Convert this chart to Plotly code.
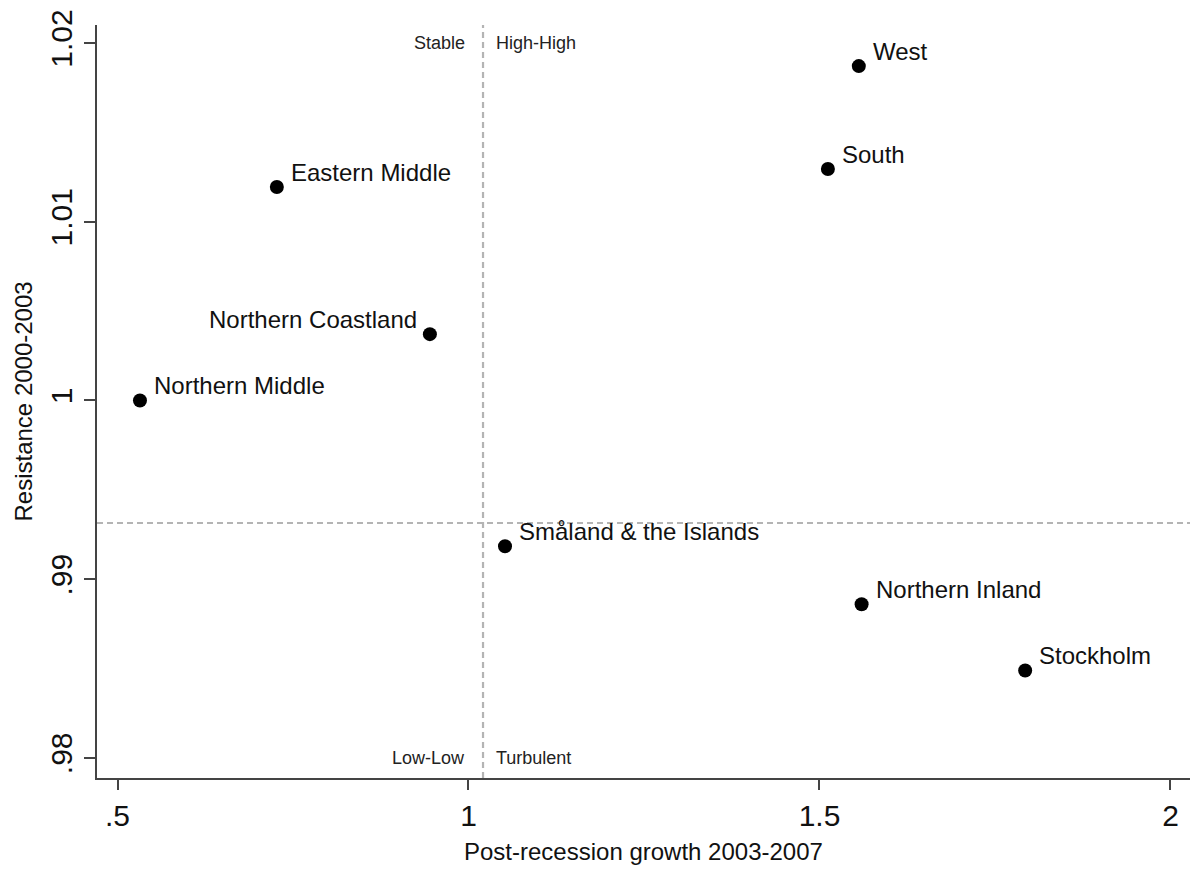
import plotly.graph_objects as go

regions = ["West", "South", "Eastern Middle", "Northern Coastland", "Northern Middle",
           "Småland & the Islands", "Northern Inland", "Stockholm"]
growth = [1.556, 1.512, 0.727, 0.945, 0.532, 1.052, 1.560, 1.793]
resistance = [1.01871, 1.01295, 1.01194, 1.00371, 1.0000, 0.99184, 0.98859, 0.98489]
label_side = ["right", "right", "right", "left", "right", "right", "right", "right"]

x_ticks = [0.5, 1, 1.5, 2]
x_ticklabels = [".5", "1", "1.5", "2"]
y_ticks = [0.98, 0.99, 1.0, 1.01, 1.02]
y_ticklabels = [".98", ".99", "1", "1.01", "1.02"]

vline_x = 1.0207
hline_y = 0.99314

FONT = "Liberation Sans, Arial, sans-serif"

fig = go.Figure()
fig.add_trace(go.Scatter(
    x=growth, y=resistance, mode="markers",
    marker=dict(color="black", size=14, line=dict(width=0)),
    hoverinfo="text", text=regions, showlegend=False,
))

fig.add_shape(type="line", xref="x", yref="paper", x0=vline_x, x1=vline_x, y0=0, y1=1,
              line=dict(color="#b4b4b4", width=2.2, dash="6px,4px"), layer="below")
fig.add_shape(type="line", xref="paper", yref="y", x0=0, x1=1, y0=hline_y, y1=hline_y,
              line=dict(color="#b4b4b4", width=2.2, dash="6px,4px"), layer="below")

annotations = []
for name, gx, ry, side in zip(regions, growth, resistance, label_side):
    annotations.append(dict(
        x=gx, y=ry, xref="x", yref="y", text=name, showarrow=False,
        xanchor="left" if side == "right" else "right", yanchor="middle",
        xshift=12 if side == "right" else -11, yshift=15,
        font=dict(family=FONT, size=24, color="#111"),
    ))

quad_font = dict(family=FONT, size=18, color="#222")
annotations += [
    dict(x=0.998, y=1.02, xref="x", yref="y", text="Stable", showarrow=False,
         xanchor="right", yanchor="middle", font=quad_font),
    dict(x=1.036, y=1.02, xref="x", yref="y", text="High-High", showarrow=False,
         xanchor="left", yanchor="middle", font=quad_font),
    dict(x=0.998, y=0.98, xref="x", yref="y", text="Low-Low", showarrow=False,
         xanchor="right", yanchor="middle", font=quad_font),
    dict(x=1.036, y=0.98, xref="x", yref="y", text="Turbulent", showarrow=False,
         xanchor="left", yanchor="middle", font=quad_font),
    dict(x=0.5, y=-0.098, xref="paper", yref="paper", text="Post-recession growth 2003-2007",
         showarrow=False, xanchor="center", yanchor="middle",
         font=dict(family=FONT, size=24, color="#111")),
    dict(x=-0.0677, y=0.5, xref="paper", yref="paper", text="Resistance 2000-2003",
         showarrow=False, xanchor="center", yanchor="middle", textangle=-90,
         font=dict(family=FONT, size=24, color="#111")),
]

fig.update_layout(
    width=1192, height=870,
    margin=dict(l=97, r=2, t=25, b=92),
    paper_bgcolor="white", plot_bgcolor="white",
    annotations=annotations,
    xaxis=dict(range=[0.4708, 2.0278], tickvals=x_ticks, ticktext=x_ticklabels,
               showgrid=False, zeroline=False, showline=True, linecolor="#444", linewidth=2,
               ticks="outside", ticklen=10, tickwidth=2, tickcolor="#444",
               tickfont=dict(family=FONT, size=30, color="#111")),
    yaxis=dict(range=[0.97887, 1.02101], tickvals=y_ticks, ticktext=y_ticklabels,
               tickangle=-90,
               showgrid=False, zeroline=False, showline=True, linecolor="#444", linewidth=2,
               ticks="outside", ticklen=11, tickwidth=2, tickcolor="#444",
               tickfont=dict(family=FONT, size=30, color="#111")),
)

fig.write_html("out.html")
